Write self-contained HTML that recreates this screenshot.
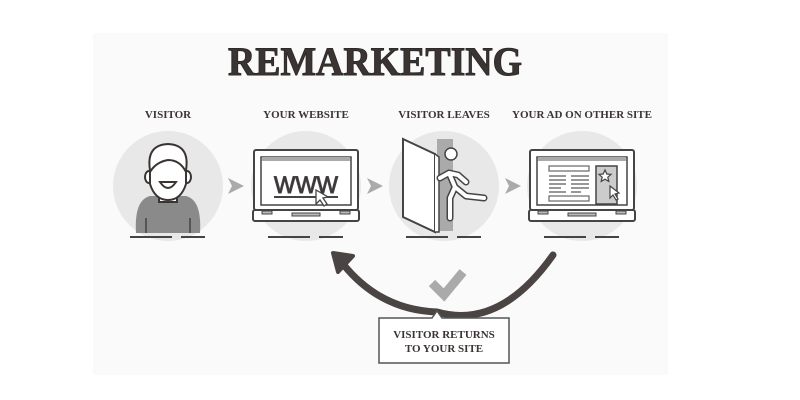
<!DOCTYPE html>
<html><head><meta charset="utf-8"><style>
html,body{margin:0;padding:0;background:#fff;width:800px;height:400px;overflow:hidden}
svg{display:block}
text{font-family:"Liberation Serif",serif;font-weight:bold;fill:#3a3433}
</style></head><body>
<svg width="800" height="400" viewBox="0 0 800 400">
<rect x="93" y="33" width="575" height="342" fill="#fafafa"/>
<text x="375" y="75" font-size="40" text-anchor="middle" textLength="294" lengthAdjust="spacingAndGlyphs" fill="#2f2a29" stroke="#2f2a29" stroke-width="1">REMARKETING</text>
<g font-size="11" text-anchor="middle">
<text x="168" y="118">VISITOR</text>
<text x="306" y="118">YOUR WEBSITE</text>
<text x="444" y="118">VISITOR LEAVES</text>
<text x="582" y="118">YOUR AD ON OTHER SITE</text>
</g>
<g fill="#e8e8e8">
<circle cx="168" cy="186" r="55"/><circle cx="306" cy="186" r="55"/>
<circle cx="444" cy="186" r="55"/><circle cx="582" cy="186" r="55"/>
</g>
<g stroke="#444" stroke-width="2">
<path d="M130 237H172M181 237H205M268 237H310M319 237H343M406 237H448M457 237H481M544 237H586M595 237H619"/>
</g>
<g fill="#aaa">
<path d="M228 178L244 186L228 194L232 186Z"/>
<path d="M367 178L383 186L367 194L371 186Z"/>
<path d="M505 178L521 186L505 194L509 186Z"/>
</g>
<!-- person -->
<path d="M136 233 Q134 200 150 196 L186 196 Q202 200 200 233Z" fill="#8a8a8a"/>
<path d="M146 218V233M190 218V233" stroke="#444" stroke-width="1.5"/>
<g fill="#fff" stroke="#3a3433" stroke-width="2">
<rect x="159" y="188" width="18" height="14"/>
<ellipse cx="149" cy="177" rx="4" ry="6"/><ellipse cx="187" cy="177" rx="4" ry="6"/>
<path d="M150 170 Q146 145 168 144 Q190 145 186 170 L186 184 Q181 200 168 200 Q155 200 150 184Z"/>
<path d="M150 172 Q156 162 168 160 Q180 160 186 172" fill="none"/>
<path d="M160 182 Q168 194 176 182Z"/>
</g>
<!-- laptops -->
<g id="lap" transform="translate(254,0)">
<rect x="0" y="150" width="104" height="60" rx="2" fill="#fff" stroke="#444" stroke-width="2"/>
<rect x="7" y="157" width="90" height="48" fill="#fff" stroke="#444" stroke-width="1.5"/>
<rect x="8" y="157" width="88" height="4" fill="#aaa"/>
<rect x="-1" y="210" width="106" height="11" rx="2" fill="#fff" stroke="#444" stroke-width="2"/>
<path d="M8 211h10v3H8zM86 211h10v3H86zM38 213h28v3H38z" fill="#bbb" stroke="#444" stroke-width="1"/>
</g>
<text x="306" y="193" font-size="24" text-anchor="middle" fill="#fff" stroke="#444" stroke-width="1" style="font-family:'Liberation Sans',sans-serif;font-weight:normal" textLength="64" lengthAdjust="spacingAndGlyphs">WWW</text>
<path d="M274 197H338" stroke="#444" stroke-width="2"/>
<path d="M316 190L316 204L320 200L324 206L327 204L323 198L328 197Z" fill="#fff" stroke="#444" stroke-width="1.3"/>
<use href="#lap" transform="translate(276,0)"/>
<g fill="#fff" stroke="#666" stroke-width="1.2">
<rect x="549" y="166" width="40" height="5"/><rect x="549" y="196" width="40" height="5"/>
</g>
<path d="M549 176h17M571 176h18M549 180h17M571 180h18M549 184h17M571 184h18M549 188h12M571 188h18M549 192h17M571 192h10" stroke="#777" stroke-width="1.5"/>
<rect x="596" y="166" width="21" height="38" fill="#ccc" stroke="#444" stroke-width="1.5"/>
<path d="M605 170l1.8 4 4.2.4-3.2 2.8 1 4.2-3.8-2.2-3.8 2.2 1-4.2-3.2-2.8 4.2-.4z" fill="#fff" stroke="#444" stroke-width="1.2"/>
<path d="M610 186L610 198L613 195L616 200L618 199L615 194L619 193Z" fill="#fff" stroke="#444" stroke-width="1.2"/>
<!-- door -->
<rect x="437" y="139" width="16" height="92" fill="#aaa"/>
<path d="M403 139L435 154L435 232L403 217Z" fill="#fff" stroke="#444" stroke-width="2"/>
<path d="M435 154L439 157L439 232L435 232" fill="#fff" stroke="#444" stroke-width="1.5"/>
<g fill="none" stroke-linecap="round" stroke-linejoin="round">
<g stroke="#444" stroke-width="7">
<path d="M440 178L449 173L458 175L466 182M449 173L455 187L450 198L450 218M455 187L466 196L484 198"/>
</g>
<g stroke="#fff" stroke-width="4">
<path d="M440 178L449 173L458 175L466 182M449 173L455 187L450 198L450 218M455 187L466 196L484 198"/>
</g>
</g>
<circle cx="451" cy="154" r="6" fill="#fff" stroke="#444" stroke-width="1.5"/>
<!-- curve -->
<path d="M553 255 Q500 330 437 312 Q380 310 343 264" fill="none" stroke="#4a4443" stroke-width="7" stroke-linecap="round"/>
<path d="M333 253L353 256L338 272Z" fill="#4a4443" stroke="#4a4443" stroke-width="4" stroke-linejoin="round"/>
<path d="M432 283L444 295L463 272" fill="none" stroke="#aaa" stroke-width="9"/>
<!-- box -->
<path d="M379 318H432L437 311L442 318H509V363H379Z" fill="#fff" stroke="#555" stroke-width="1.5"/>
<g font-size="11" text-anchor="middle">
<text x="444" y="338">VISITOR RETURNS</text>
<text x="444" y="352">TO YOUR SITE</text>
</g>
</svg>
</body></html>
